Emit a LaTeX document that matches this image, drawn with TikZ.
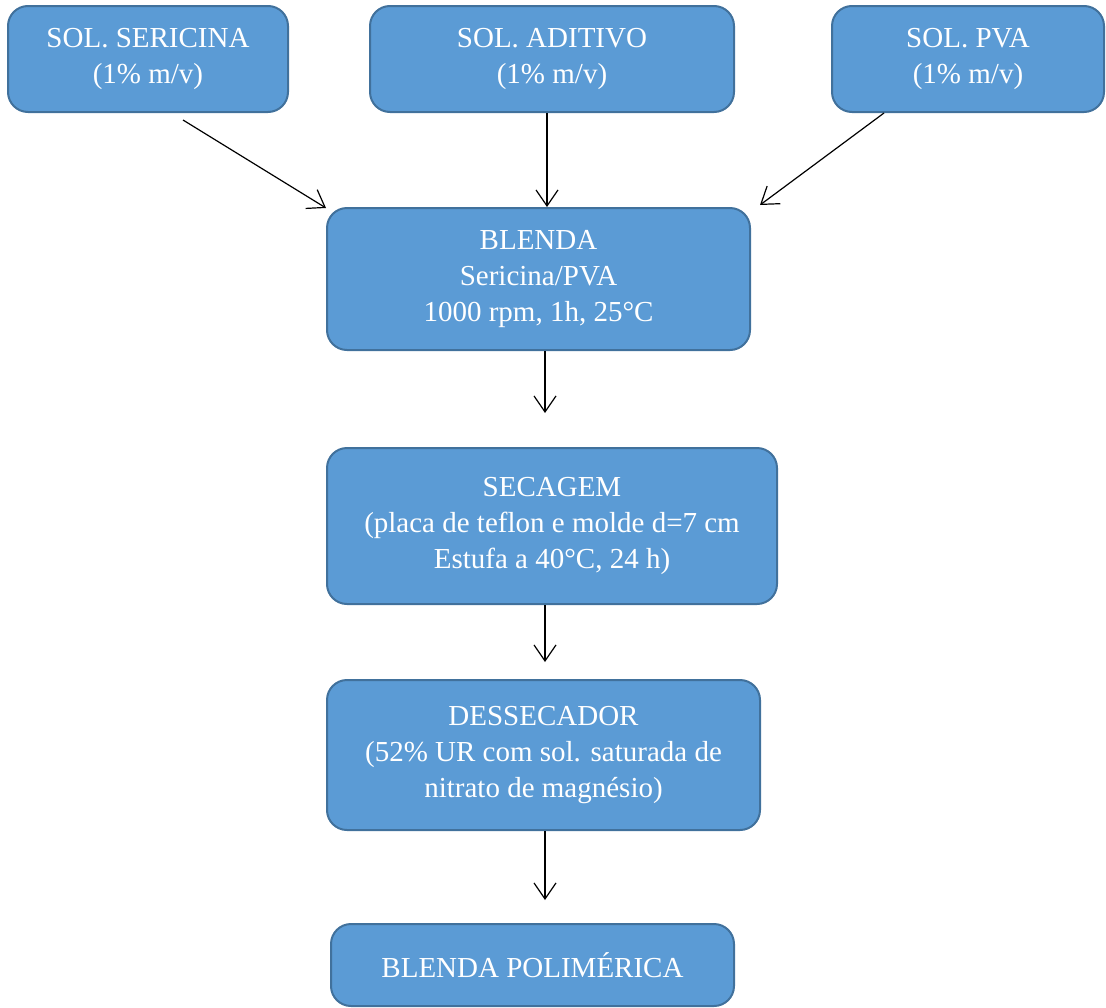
\documentclass[tikz,border=0pt]{standalone}
\usepackage{fontspec}
\setmainfont{Liberation Serif}
\usetikzlibrary{arrows.meta}
\definecolor{boxfill}{HTML}{5B9BD5}
\definecolor{boxline}{HTML}{41719C}
\begin{document}
\begin{tikzpicture}[x=1pt,y=-1pt]
\tikzset{etapa/.style={draw=boxline, line width=2pt, fill=boxfill, rounded corners=20pt,
    text=white, align=center, inner sep=0pt, font=\fontsize{29}{36}\selectfont}}
\tikzset{seta/.style={draw=black, line width=1.2pt, -{Straight Barb[length=16pt,width=22pt,line width=1.2pt]}}}
\useasboundingbox (0,0) rectangle (1106,1007);
% solucoes de partida
\node[etapa, minimum width=280pt, minimum height=106pt] (sericina) at (148,59) {SOL. SERICINA\\(1\% m/v)};
\node[etapa, minimum width=364pt, minimum height=106pt] (aditivo) at (552,59) {SOL. ADITIVO\\(1\% m/v)};
\node[etapa, minimum width=272pt, minimum height=106pt] (pva) at (968,59) {SOL. PVA\\(1\% m/v)};
% etapas do processo
\node[etapa, minimum width=423pt, minimum height=142pt] (blenda) at (538.5,279) {BLENDA\\Sericina/PVA\\1000 rpm, 1h, 25°C};
\node[etapa, minimum width=450pt, minimum height=156pt] (secagem) at (552,526) {SECAGEM\\(placa de teflon e molde d=7 cm\\Estufa a 40°C, 24 h)};
\node[etapa, minimum width=433pt, minimum height=150pt] (dessecador) at (543.5,755) {DESSECADOR\\(52\% UR com sol. saturada de\\nitrato de magnésio)};
\node[etapa, minimum width=403pt, minimum height=82pt] (final) at (532.5,965) {BLENDA POLIMÉRICA};
% pontas livres das setas
\coordinate (s1) at (183,120);
\coordinate (e1) at (326,208);
\coordinate (s2) at (547,113);
\coordinate (e2) at (547,207);
\coordinate (s3) at (884,113);
\coordinate (e3) at (760,205);
\coordinate (e4) at (545,413);
\coordinate (e5) at (545,662);
\coordinate (e6) at (545,900);
\draw[seta] (s1) -- (e1);
\draw[seta] (s2) -- (e2);
\draw[seta] (s3) -- (e3);
\draw[seta] (blenda.south -| e4) -- (e4);
\draw[seta] (secagem.south -| e5) -- (e5);
\draw[seta] (dessecador.south -| e6) -- (e6);
\end{tikzpicture}
\end{document}
